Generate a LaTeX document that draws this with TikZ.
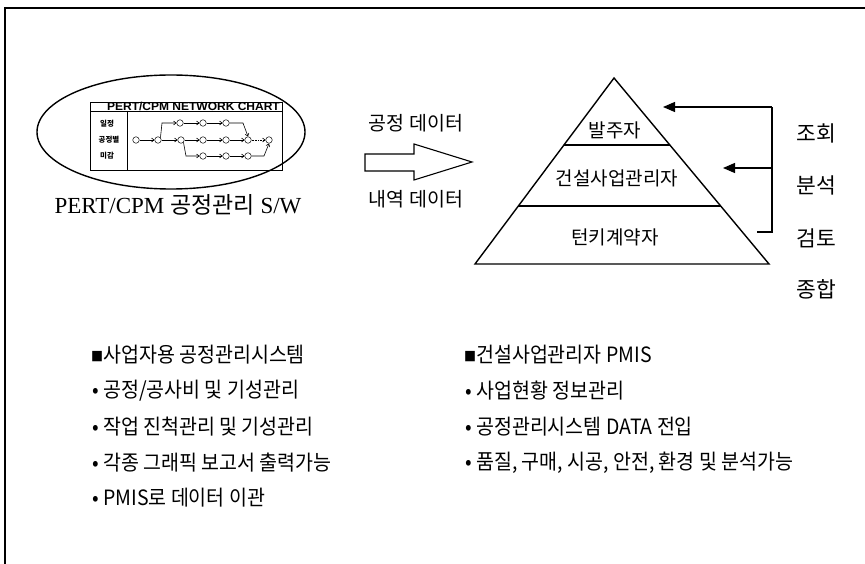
\documentclass[tikz,border=0pt]{standalone}
\usepackage{fontspec}
\setmainfont{Liberation Serif}
\newfontfamily\kr{Noto Sans CJK KR}
\newfontfamily\hv{Liberation Sans}
\usetikzlibrary{calc,arrows.meta}
\newcommand{\sqmark}{\raisebox{1.5pt}{\fontsize{12}{12}\selectfont ■}}

\begin{document}
\begin{tikzpicture}[x=1pt,y=-1pt,
  every node/.style={inner sep=0pt},
  heavy/.style={line width=1.4pt},
  listline/.style={font=\kr\fontsize{19.5}{22}\selectfont, anchor=west, yscale=1.08},
  levellabel/.style={font=\kr\fontsize{19}{22}\selectfont},
  sidelabel/.style={font=\kr\fontsize{21.5}{24}\selectfont},
  flowlabel/.style={font=\kr\fontsize{19.5}{22}\selectfont},
  evt/.style={circle, draw, line width=0.5pt, minimum size=6.5pt},
  act/.style={line width=0.6pt, -{Straight Barb[length=2.5pt,width=4pt]}},
  fb/.style={line width=1.2pt},
  fbarrow/.style={fb, -{Triangle[length=12pt,width=10pt]}}
]
\useasboundingbox (0,0) rectangle (865,564);

% outer frame (top and left edges only)
\draw[line width=1.3pt] (5,564) -- (5,8) -- (865,8);

% ---------- software oval ----------
\draw[heavy] (171,132) ellipse [x radius=134, y radius=57];

% network chart sheet
\draw[line width=0.8pt] (90,102) rectangle (282,170);
\draw[line width=0.8pt] (90,111) -- (282,111);
\draw[line width=0.8pt] (127,111) -- (127,170);
\node[font=\hv\bfseries\fontsize{10}{10}\selectfont, xscale=1.2, yscale=1.15, anchor=east] (charttitle) at (280,106.5) {PERT/CPM NETWORK CHART};
\node[font=\kr\bfseries\fontsize{7.5}{8}\selectfont] (rowA) at (107,124) {일정};
\node[font=\kr\bfseries\fontsize{7.5}{8}\selectfont] (rowB) at (109,140) {공정별};
\node[font=\kr\bfseries\fontsize{7.5}{8}\selectfont] (rowC) at (107,156) {미감};

% events
\foreach \n/\x in {a1/136,a2/158,a3/181,a4/203,a5/226,a6/248,a7/269}
  \node[evt] (\n) at (\x,140) {};
\foreach \n/\x in {b1/180,b2/203,b3/226}
  \node[evt] (\n) at (\x,123) {};
\foreach \n/\x in {c1/203,c2/226,c3/248}
  \node[evt] (\n) at (\x,156) {};
\coordinate (up1) at (162,123);
\coordinate (up2) at (243,123);
\coordinate (dn1) at (186,156);
\coordinate (dn2) at (264,156);

% activities
\draw[act] (a1) -- (a2);
\draw[act] (a2) -- (a3);
\draw[act] (a3) -- (a4);
\draw[act] (a4) -- (a5);
\draw[act] (a5) -- (a6);
\draw[act, densely dotted] (a6) -- (a7);
\draw[act] (a2.north east) -- (up1) -- (b1);
\draw[act] (b1) -- (b2);
\draw[act] (b2) -- (b3);
\draw[act] (b3) -- (up2) -- (a6.north);
\draw[act] (a3.south east) -- (dn1) -- (c1);
\draw[act] (c1) -- (c2);
\draw[act] (c2) -- (c3);
\draw[act] (c3) -- (dn2) -- (a7.south);

\node[anchor=center] (swname) at (178,205)
  {\fontsize{23}{26}\selectfont PERT/CPM {\kr 공정관리} S/W};

% ---------- data transfer arrow ----------
\node[flowlabel] (dataA) at (416,123) {공정 데이터};
\node[flowlabel] (dataB) at (416,199) {내역 데이터};
\draw[line width=1.1pt] (365,154) -- (414,154) -- (414,144) -- (472,162)
  -- (414,180) -- (414,171) -- (365,171) -- cycle;

% ---------- organisation pyramid ----------
\coordinate (apex) at (614,78);
\coordinate (bl) at (475,264);
\coordinate (br) at (769,264);
\draw[heavy, line join=miter] (apex) -- (bl) -- (br) -- cycle;
\draw[heavy] ($(apex)!0.36!(bl)$) -- ($(apex)!0.36!(br)$);
\draw[heavy] ($(apex)!0.688!(bl)$) -- ($(apex)!0.688!(br)$);
\node[levellabel] (owner) at (615,130) {발주자};
\node[levellabel] (cm) at (617,178) {건설사업관리자};
\node[levellabel] (turnkey) at (615,237) {턴키계약자};

% feedback loop
\coordinate (fbtop) at (772,107);
\coordinate (fbmid) at (772,168);
\coordinate (fbbot) at (772,232);
\coordinate (fbin) at (757,232);
\coordinate (tipA) at (663,107);
\coordinate (tipB) at (723,168);
\draw[fb] (fbin) -- (fbbot) -- (fbtop);
\draw[fbarrow] (fbtop) -- (tipA);
\draw[fbarrow] (fbmid) -- (tipB);

\node[sidelabel] (s1) at (816,133) {조회};
\node[sidelabel] (s2) at (816,185) {분석};
\node[sidelabel] (s3) at (816,238) {검토};
\node[sidelabel] (s4) at (816,289) {종합};

% ---------- feature lists ----------
\node[listline] (L0) at (91,355) {\sqmark 사업자용 공정관리시스템};
\node[listline] (L1) at (92,391) {• 공정/공사비 및 기성관리};
\node[listline] (L2) at (92,427) {• 작업 진척관리 및 기성관리};
\node[listline] (L3) at (92,463) {• 각종 그래픽 보고서 출력가능};
\node[listline] (L4) at (92,498) {• PMIS로 데이터 이관};

\node[listline] (R0) at (464,355) {\sqmark 건설사업관리자 PMIS};
\node[listline] (R1) at (465,391) {• 사업현황 정보관리};
\node[listline] (R2) at (465,427) {• 공정관리시스템 DATA 전입};
\node[listline] (R3) at (465,463) {• 품질, 구매, 시공, 안전, 환경 및 분석가능};
\end{tikzpicture}
\end{document}
